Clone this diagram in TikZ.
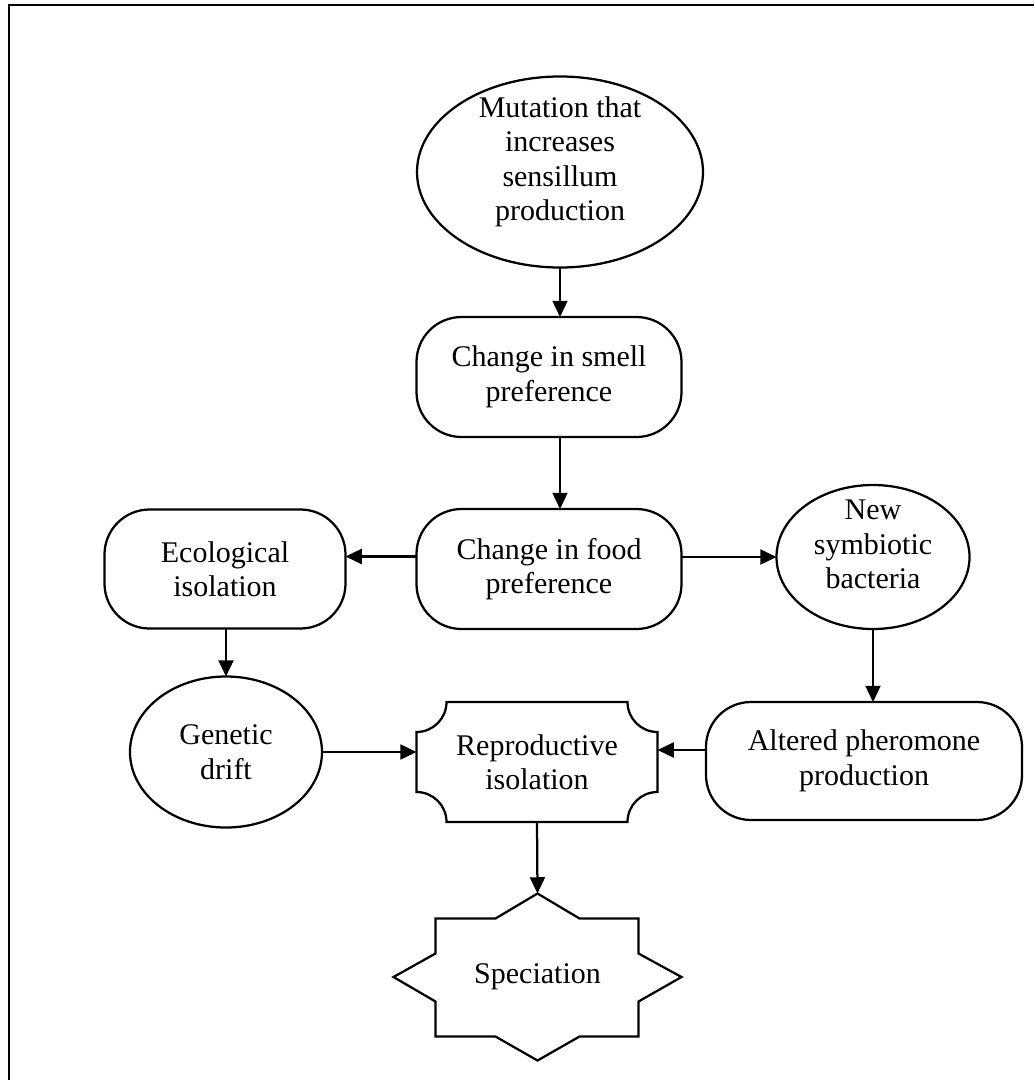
\documentclass[tikz,border=0pt]{standalone}
\usepackage{fontspec}
\setmainfont{Liberation Serif}
\usepackage{tikz}
\usetikzlibrary{shapes.geometric,arrows.meta}

\tikzset{
  every node/.style={font=\fontsize{12pt}{13.8pt}\selectfont, align=center, outer sep=0pt, inner sep=0pt},
  oval/.style={draw, ellipse, line width=0.9pt},
  pill/.style={draw, rectangle, rounded corners=18pt, line width=0.9pt},
  plainbox/.style={rectangle},
  arr/.style={line width=0.9pt, -{Triangle[length=6.5pt,width=6pt]}},
}

\begin{document}
\begin{tikzpicture}[x=0.4pt, y=0.4pt]
  \useasboundingbox (0,0) rectangle (1034,-1080);

  % the frame (only left and top edges fall on the page)
  \draw[line width=1pt] (9,-1080) -- (9,-5) -- (1034,-5);

  % the boxes:
  \node[oval, minimum width=114.4pt, minimum height=76.4pt,
    label={[yshift=4pt]center:Mutation that\\increases\\sensillum\\production}] (mut) at (560,-172) {};
  \node[pill, minimum width=106pt, minimum height=48pt] (smell) at (549,-377)
    {Change in smell\\preference};
  \node[pill, minimum width=106pt, minimum height=48pt] (food) at (549,-569)
    {Change in food\\preference};
  \node[pill, minimum width=96.4pt, minimum height=47.6pt] (eco) at (225,-569)
    {Ecological\\isolation};
  \node[oval, minimum width=77.2pt, minimum height=57.6pt,
    label={[yshift=5pt]center:New\\symbiotic\\bacteria}] (bact) at (873,-557) {};
  \node[oval, minimum width=76.8pt, minimum height=60.4pt,
    label={center:Genetic\\drift}] (gen) at (226,-752) {};
  \node[pill, minimum width=126.4pt, minimum height=47.2pt] (alt) at (864,-761)
    {Altered pheromone\\production};
  \node[plainbox, minimum width=96.4pt, minimum height=48pt] (repro) at (537,-762)
    {Reproductive\\isolation};
  \node[plainbox, minimum width=115.2pt, minimum height=66.8pt] (spec) at (537.5,-977)
    {Speciation};

  % concave corners of the reproductive isolation box
  \draw[line width=0.9pt] ([xshift=12pt]repro.north west) -- ([xshift=-12pt]repro.north east)
    arc[start angle=180, end angle=270, radius=12pt] -- ([yshift=12pt]repro.south east)
    arc[start angle=90, end angle=180, radius=12pt] -- ([xshift=12pt]repro.south west)
    arc[start angle=0, end angle=90, radius=12pt] -- ([yshift=-12pt]repro.north west)
    arc[start angle=270, end angle=360, radius=12pt] -- cycle;

  % the star round speciation
  \draw[line width=0.9pt, shift={(spec.center)}]
    (0,83.5) -- (42,58.5) -- (101,58.5) -- (101,23.5) -- (144,0) -- (101,-24.5)
    -- (101,-59.5) -- (42,-59.5) -- (0,-83.5) -- (-42,-59.5) -- (-102,-59.5)
    -- (-102,-24.5) -- (-144,0) -- (-102,23.5) -- (-102,58.5) -- (-42,58.5) -- cycle;

  % arrows
  \draw[arr] (mut.south) -- (mut.south |- smell.north);
  \draw[arr] (smell.south -| mut.south) -- (food.north -| mut.south);
  \draw[arr] ([yshift=5pt]food.west) -- ([yshift=5pt]eco.east);
  \draw[arr] (food.east |- bact.west) -- (bact.west);
  \draw[arr] (eco.south -| gen.north) -- (gen.north);
  \draw[arr] (bact.south) -- (bact.south |- alt.north);
  \draw[arr] (gen.east) -- (gen.east -| repro.west);
  \draw[arr] ([yshift=4.4pt]alt.west) -- ([yshift=4.4pt]alt.west -| repro.east);
  \draw[arr] (repro.south) -- (spec.north);

\end{tikzpicture}
\end{document}
